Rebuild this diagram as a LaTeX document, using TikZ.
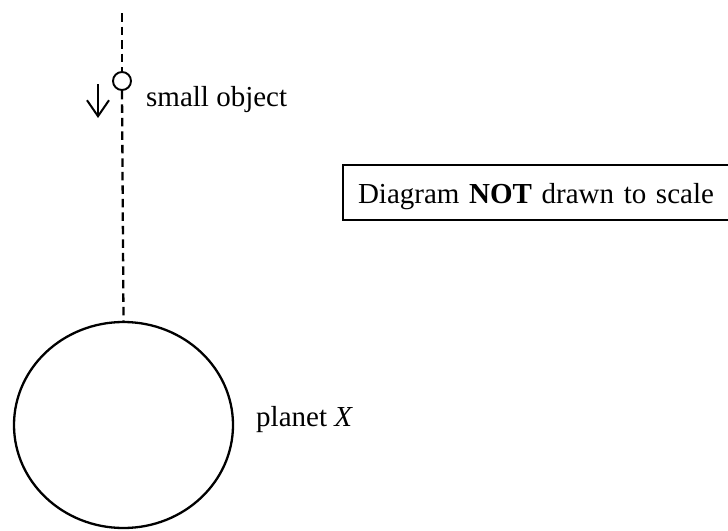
\documentclass[tikz,border=0pt]{standalone}
\usepackage{fontspec}
\setmainfont{Liberation Serif}
\usetikzlibrary{arrows.meta,shapes.geometric}
\begin{document}
\begin{tikzpicture}[x=1pt,y=-1pt,
  txt/.style={font=\fontsize{29}{33}\selectfont},
  lbl/.style={txt, inner sep=0pt, anchor=base west},
  dashline/.style={line width=2.3pt, dash pattern=on 8.5pt off 5pt},
  solid line/.style={line width=2.3pt}]
\clip (0,0) rectangle (728,530);
\useasboundingbox (0,0) rectangle (728,530);
\node[draw, line width=1.9pt, circle, minimum size=18pt, inner sep=0pt] (obj) at (122,81) {};
\node[draw, solid line, ellipse, minimum width=219pt, minimum height=206pt, inner sep=0pt] (planet) at (123.5,425) {};
\coordinate (top) at (122,13);
\draw[dashline] (top) -- (obj.north);
\draw[dashline] (obj.south) -- (planet.north);
\coordinate (a1) at (98,84);
\coordinate (a2) at (98,118);
\draw[line width=2pt, -{Straight Barb[length=16pt,width=22pt,line width=2pt]}] (a1) -- (a2);
\node[lbl] (objlbl) at (146,106) {small object};
\node[lbl] (plbl) at (256,426) {planet \textit{X}};
\node[draw, line width=2pt, txt, anchor=base west, inner xsep=15pt, inner ysep=0pt,
      text height=38pt, text depth=17pt, text width=400pt, align=left] (box) at (342,203)
      {Diagram \textbf{NOT} drawn to scale};
\end{tikzpicture}
\end{document}
